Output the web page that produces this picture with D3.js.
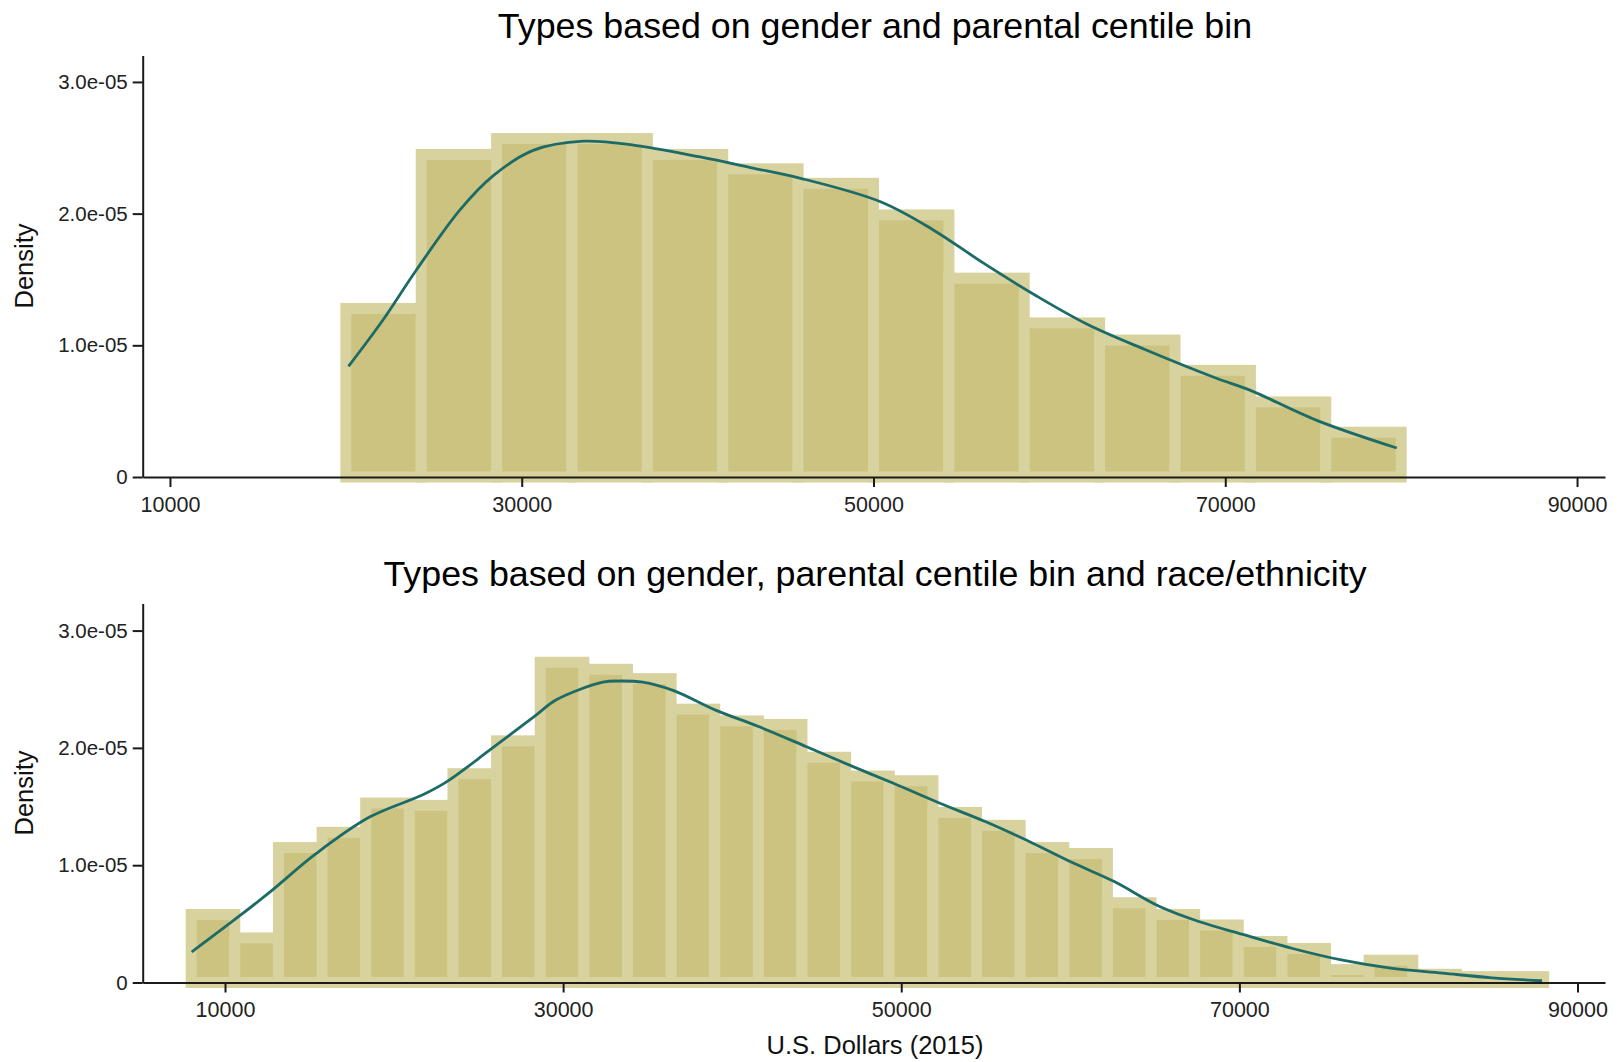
<!DOCTYPE html>
<html>
<head>
<meta charset="utf-8">
<script src="https://cdn.jsdelivr.net/npm/d3@7"></script>
<style>
  body { margin: 0; background: #fff; }
  text { font-family: 'Liberation Sans', Arial, sans-serif; }
</style>
</head>
<body>
<script>
// DATA
// top panel: types based on gender and parental centile bin
const topEdges = [20000, 24286, 28571, 32857, 37143, 41429, 45714, 50000,
  54286, 58571, 62857, 67143, 71429, 75714, 80000];
const topDensity = [1.28e-5, 2.45e-5, 2.57e-5, 2.57e-5, 2.45e-5, 2.34e-5, 2.23e-5,
  1.99e-5, 1.51e-5, 1.17e-5, 1.04e-5, 0.81e-5, 0.57e-5, 0.34e-5];
const topCurveX = [20150, 22100, 24000, 26500, 28400, 30650, 33500, 36350, 40150,
  43000, 45800, 50400, 53350, 56300, 59200, 62150, 65400, 69500, 71400, 75200, 79750];
const topCurveY = [0.84e-5, 1.19e-5, 1.57e-5, 2.03e-5, 2.29e-5, 2.48e-5, 2.55e-5,
  2.52e-5, 2.43e-5, 2.35e-5, 2.27e-5, 2.09e-5, 1.88e-5, 1.62e-5, 1.38e-5, 1.16e-5,
  0.97e-5, 0.75e-5, 0.66e-5, 0.43e-5, 0.22e-5];

// bottom panel: types based on gender, parental centile bin and race/ethnicity
const bottomEdges = [8000, 10581, 13161, 15742, 18323, 20903, 23484, 26065, 28645,
  31226, 33806, 36387, 38968, 41548, 44129, 46710, 49290, 51871, 54452, 57032,
  59613, 62194, 64774, 67355, 69935, 72516, 75097, 77677, 80258, 82839, 85419, 88000];
const bottomDensity = [0.58e-5, 0.38e-5, 1.15e-5, 1.28e-5, 1.53e-5, 1.51e-5, 1.78e-5,
  2.06e-5, 2.73e-5, 2.67e-5, 2.59e-5, 2.33e-5, 2.23e-5, 2.20e-5, 1.92e-5, 1.76e-5,
  1.72e-5, 1.45e-5, 1.34e-5, 1.15e-5, 1.10e-5, 0.68e-5, 0.58e-5, 0.49e-5, 0.35e-5,
  0.29e-5, 0.11e-5, 0.19e-5, 0.07e-5, 0.05e-5, 0.05e-5];
const bottomCurveX = [8030, 10700, 12650, 15400, 18550, 21700, 23100, 25650, 28400,
  29600, 32350, 33350, 34700, 36500, 39050, 41600, 44400, 47150, 49500, 52250, 55000,
  57750, 60150, 62600, 65250, 67600, 70200, 73150, 76100, 79050, 82000, 84950, 87900];
const bottomCurveY = [0.26e-5, 0.55e-5, 0.77e-5, 1.10e-5, 1.41e-5, 1.60e-5, 1.71e-5,
  1.98e-5, 2.28e-5, 2.41e-5, 2.56e-5, 2.57e-5, 2.56e-5, 2.49e-5, 2.32e-5, 2.18e-5,
  2.01e-5, 1.84e-5, 1.70e-5, 1.53e-5, 1.37e-5, 1.19e-5, 1.02e-5, 0.86e-5, 0.65e-5,
  0.52e-5, 0.41e-5, 0.29e-5, 0.19e-5, 0.12e-5, 0.08e-5, 0.04e-5, 0.015e-5];

// axes
const xTicks = [10000, 30000, 50000, 70000, 90000];
const yTicks = [0, 1e-5, 2e-5, 3e-5];
const yTickLabels = ['0', '1.0e-05', '2.0e-05', '3.0e-05'];

const BAR_FILL = '#cbc37f';
const BAR_EDGE = '#d8d29e';
const LINE_COLOR = '#1d6b67';
const AXIS_COLOR = '#1a1a1a';

const WIDTH = 1623;
const HEIGHT = 1062;
const LEFT = 142.7;
const RIGHT = 1605;

const svg = d3
  .select('body')
  .append('svg')
  .attr('width', WIDTH)
  .attr('height', HEIGHT);

function drawPanel(opts) {
  const x = d3.scaleLinear().domain(opts.xDomain).range([LEFT, RIGHT]);
  const y = d3.scaleLinear().domain(opts.yDomain).range([opts.base, opts.top]);

  const g = svg.append('g');

  const bins = opts.density.map((d, i) => {
    return { x0: opts.edges[i], x1: opts.edges[i + 1], value: d };
  });

  // histogram bars, thick light outline round a darker fill
  g.append('g')
    .selectAll('.bar')
    .data(bins)
    .join('rect')
    .classed('bar', true)
    .attr('x', (d) => x(d.x0))
    .attr('width', (d) => x(d.x1) - x(d.x0))
    .attr('y', (d) => y(d.value))
    .attr('height', (d) => y(0) - y(d.value))
    .attr('fill', BAR_FILL)
    .attr('stroke', BAR_EDGE)
    .attr('stroke-width', 11);

  // kernel density line
  const pts = opts.curveX.map((v, i) => [v, opts.curveY[i]]);
  const line = d3
    .line()
    .x((d) => x(d[0]))
    .y((d) => y(d[1]))
    .curve(d3.curveCatmullRom.alpha(0.5));

  g.append('path')
    .datum(pts)
    .attr('d', line)
    .attr('fill', 'none')
    .attr('stroke', LINE_COLOR)
    .attr('stroke-width', 2.8)
    .attr('stroke-linejoin', 'round');

  // x axis
  const xAxis = g
    .append('g')
    .attr('transform', `translate(0, ${opts.base})`)
    .call(
      d3.axisBottom(x).tickValues(xTicks).tickFormat(d3.format('d'))
        .tickSize(10).tickSizeOuter(0).tickPadding(9.5)
    );

  // y axis
  const yAxis = g
    .append('g')
    .attr('transform', `translate(${LEFT}, 0)`)
    .call(
      d3.axisLeft(y).tickValues(yTicks).tickFormat((d, i) => yTickLabels[i])
        .tickSize(10).tickSizeOuter(0).tickPadding(5)
    );

  [xAxis, yAxis].forEach((a) => {
    a.selectAll('path, line').attr('stroke', AXIS_COLOR).attr('stroke-width', 2);
    a.selectAll('text').attr('fill', '#222').style('font-family', "'Liberation Sans', Arial, sans-serif");
  });
  xAxis.selectAll('text').style('font-size', '21.5px');
  yAxis.selectAll('text').style('font-size', '20.5px');

  // panel title
  g.append('text')
    .attr('x', 875)
    .attr('y', opts.titleY)
    .attr('text-anchor', 'middle')
    .style('font-size', '35.8px')
    .attr('fill', '#000')
    .text(opts.title);

  // y label
  g.append('text')
    .attr('transform', `translate(33.3, ${opts.labelY}) rotate(-90)`)
    .attr('text-anchor', 'middle')
    .style('font-size', '25.5px')
    .attr('fill', '#111')
    .text('Density');
}

drawPanel({
  edges: topEdges,
  density: topDensity,
  curveX: topCurveX,
  curveY: topCurveY,
  xDomain: [8450, 91590],
  yDomain: [0, 3.2e-5],
  base: 477,
  top: 55.6,
  title: 'Types based on gender and parental centile bin',
  titleY: 37.5,
  labelY: 266
});

drawPanel({
  edges: bottomEdges,
  density: bottomDensity,
  curveX: bottomCurveX,
  curveY: bottomCurveY,
  xDomain: [5132, 91627],
  yDomain: [0, 3.23e-5],
  base: 982.5,
  top: 603.6,
  title: 'Types based on gender, parental centile bin and race/ethnicity',
  titleY: 586,
  labelY: 793
});

// x axis title
svg
  .append('text')
  .attr('x', 875)
  .attr('y', 1054)
  .attr('text-anchor', 'middle')
  .style('font-size', '25.5px')
  .attr('fill', '#111')
  .text('U.S. Dollars (2015)');
</script>
</body>
</html>
